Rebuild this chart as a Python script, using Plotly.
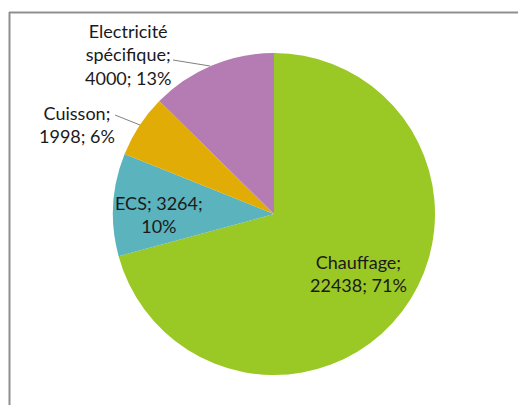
import plotly.graph_objects as go

labels = ["Chauffage", "ECS", "Cuisson", "Electricité spécifique"]
values = [22438, 3264, 1998, 4000]
colors = ["#9AC824", "#5AB3BD", "#E1AC05", "#B57BB3"]

# display text per slice (line breaks as in the original)
label_lines = ["Chauffage;<br>{v}; {p}%",
               "ECS; {v};<br>{p}%",
               "Cuisson;<br>{v}; {p}%",
               "Electricité<br>spécifique;<br>{v}; {p}%"]

W, H = 526, 405
OFF = 8  # page body margin
total = sum(values)
pcts = [round(v / total * 100) for v in values]

def px(x):
    return (x - OFF) / W

def py(y):
    return 1 - (y - OFF) / H

fig = go.Figure(go.Pie(
    labels=labels, values=values, sort=False, direction="clockwise", rotation=0,
    marker=dict(colors=colors, line=dict(width=0)),
    textinfo="none", hoverinfo="label+value+percent", showlegend=False,
    domain=dict(x=[px(113), px(435)], y=[py(375), py(53)]),
))

# label positions (pixel centres) and leader lines
label_pos = [(358, 273), (159, 214), (77, 124), (128, 55)]
leaders = [None, None, ((115, 115), (140, 125)), ((173, 60), (210, 66))]

annotations = []
shapes = []
for i in range(len(labels)):
    txt = label_lines[i].format(v=values[i], p=pcts[i])
    x, y = label_pos[i]
    annotations.append(dict(
        x=px(x), y=py(y), xref="paper", yref="paper", text=txt, showarrow=False,
        font=dict(family="Lato", size=18, color="#1a1a1a"), align="center",
        xanchor="center", yanchor="middle"))
    if leaders[i]:
        (x0, y0), (x1, y1) = leaders[i]
        shapes.append(dict(type="line", xref="paper", yref="paper",
                           x0=px(x0), y0=py(y0), x1=px(x1), y1=py(y1),
                           line=dict(color="#808080", width=1)))

# chart frame (top and left edges visible)
shapes.append(dict(type="line", xref="paper", yref="paper", x0=px(9), y0=py(12.5), x1=1, y1=py(12.5),
                   line=dict(color="#8f8f8f", width=2)))
shapes.append(dict(type="line", xref="paper", yref="paper", x0=px(9.5), y0=py(12), x1=px(9.5), y1=0,
                   line=dict(color="#8f8f8f", width=2)))

fig.update_layout(width=W, height=H, margin=dict(l=0, r=0, t=0, b=0),
                  paper_bgcolor="white", plot_bgcolor="white",
                  annotations=annotations, shapes=shapes)
fig.write_html("out.html")
